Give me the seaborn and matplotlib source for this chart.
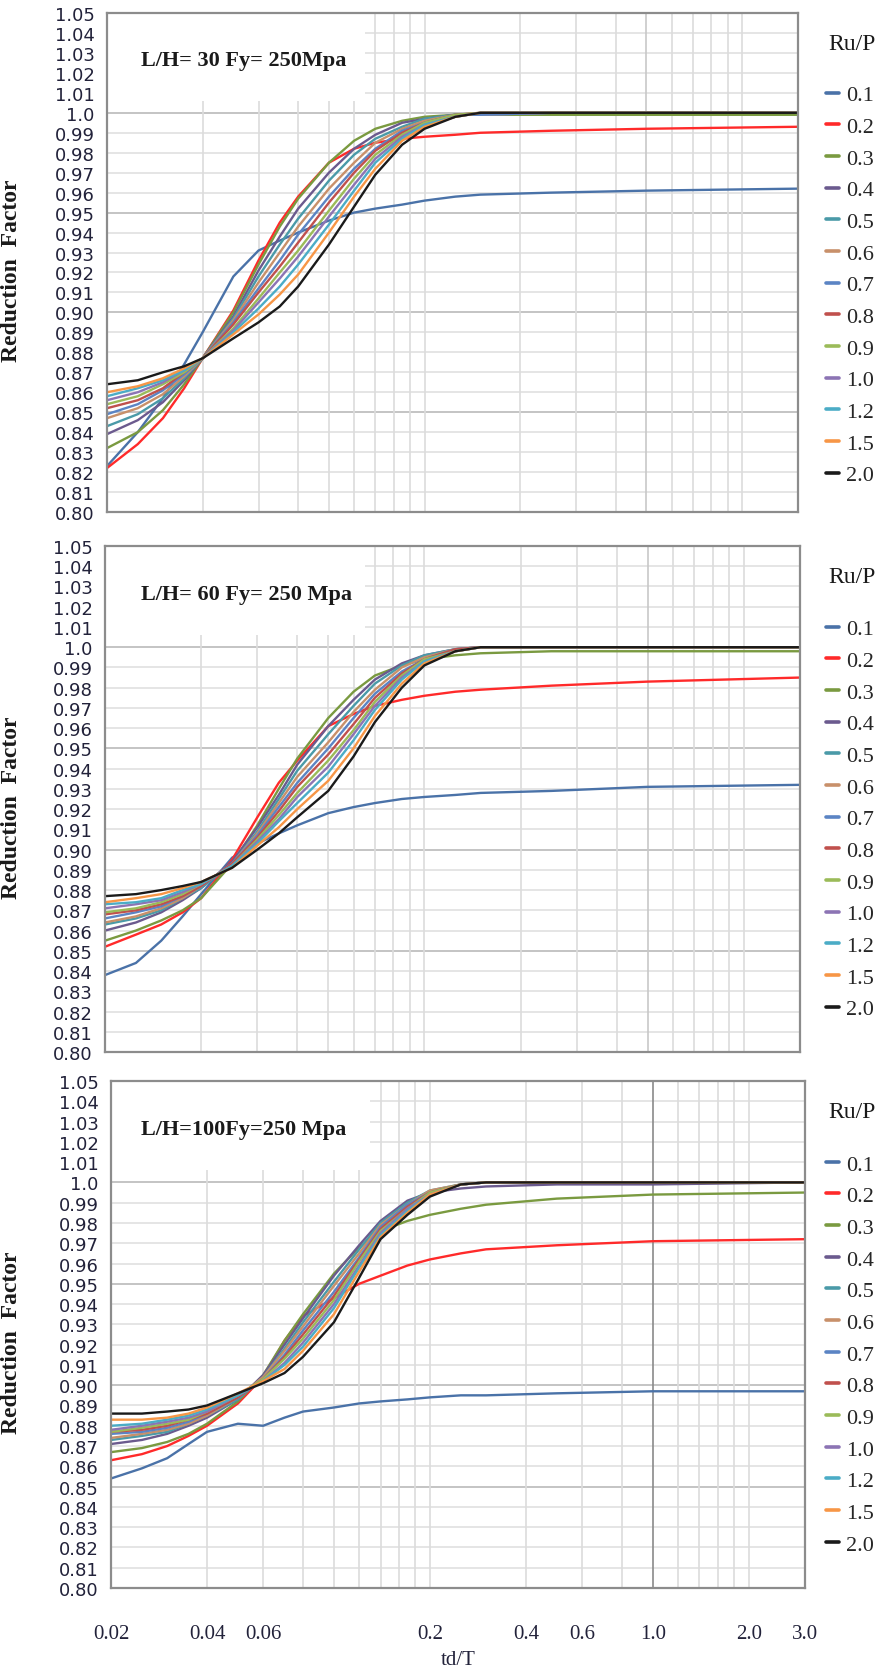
import matplotlib
matplotlib.use("Agg")
import matplotlib.pyplot as plt
import pandas as pd
import seaborn as sns
from matplotlib.lines import Line2D
from matplotlib.patches import Rectangle
from matplotlib.ticker import NullLocator, FixedLocator, FixedFormatter

# ---------------- data ----------------
td_T = [0.02, 0.025, 0.03, 0.035, 0.04, 0.05, 0.06, 0.07, 0.08, 0.1, 0.12,
        0.14, 0.17, 0.2, 0.25, 0.3, 0.5, 1.0, 3.0]

ru_labels = ["0.1", "0.2", "0.3", "0.4", "0.5", "0.6", "0.7", "0.8", "0.9",
             "1.0", "1.2", "1.5", "2.0"]
ru_colors = ["#4a72a8", "#ff2a2a", "#7a9a40", "#6b5a8e", "#4a9aa8", "#c8906a",
             "#5b84c4", "#c0504d", "#9bbb59", "#8c74b4", "#4bacc6", "#f79646",
             "#1a1a1a"]

# L/H = 30
lh30_ru01 = [0.823, 0.840, 0.857, 0.874, 0.890, 0.918, 0.931, 0.936, 0.940, 0.946, 0.950, 0.952, 0.954, 0.956, 0.958, 0.959, 0.960, 0.961, 0.962]
lh30_ru02 = [0.822, 0.834, 0.847, 0.862, 0.877, 0.901, 0.926, 0.945, 0.958, 0.975, 0.982, 0.985, 0.987, 0.988, 0.989, 0.990, 0.991, 0.992, 0.993]
lh30_ru03 = [0.832, 0.840, 0.851, 0.864, 0.877, 0.900, 0.924, 0.943, 0.957, 0.975, 0.986, 0.992, 0.996, 0.998, 0.999, 0.999, 0.999, 0.999, 0.999]
lh30_ru04 = [0.839, 0.846, 0.855, 0.866, 0.877, 0.898, 0.921, 0.938, 0.952, 0.970, 0.982, 0.989, 0.995, 0.997, 0.999, 0.999, 1.000, 1.000, 1.000]
lh30_ru05 = [0.843, 0.849, 0.857, 0.867, 0.877, 0.897, 0.918, 0.934, 0.947, 0.966, 0.979, 0.987, 0.993, 0.997, 0.999, 0.999, 1.000, 1.000, 1.000]
lh30_ru06 = [0.847, 0.852, 0.859, 0.868, 0.877, 0.896, 0.915, 0.930, 0.943, 0.962, 0.975, 0.985, 0.992, 0.996, 0.999, 0.999, 1.000, 1.000, 1.000]
lh30_ru07 = [0.849, 0.854, 0.861, 0.869, 0.877, 0.895, 0.912, 0.926, 0.939, 0.958, 0.972, 0.982, 0.991, 0.995, 0.999, 0.999, 1.000, 1.000, 1.000]
lh30_ru08 = [0.852, 0.856, 0.862, 0.870, 0.877, 0.894, 0.910, 0.923, 0.935, 0.955, 0.970, 0.981, 0.990, 0.995, 0.999, 1.000, 1.000, 1.000, 1.000]
lh30_ru09 = [0.854, 0.858, 0.864, 0.870, 0.877, 0.892, 0.907, 0.920, 0.931, 0.951, 0.967, 0.979, 0.989, 0.995, 0.999, 1.000, 1.000, 1.000, 1.000]
lh30_ru10 = [0.856, 0.860, 0.865, 0.871, 0.877, 0.891, 0.905, 0.917, 0.928, 0.948, 0.964, 0.977, 0.988, 0.994, 0.998, 1.000, 1.000, 1.000, 1.000]
lh30_ru12 = [0.858, 0.862, 0.866, 0.871, 0.877, 0.890, 0.902, 0.913, 0.924, 0.944, 0.961, 0.975, 0.987, 0.994, 0.998, 1.000, 1.000, 1.000, 1.000]
lh30_ru15 = [0.860, 0.863, 0.867, 0.872, 0.877, 0.889, 0.899, 0.909, 0.919, 0.940, 0.958, 0.972, 0.986, 0.993, 0.998, 1.000, 1.000, 1.000, 1.000]
lh30_ru20 = [0.864, 0.866, 0.870, 0.873, 0.877, 0.887, 0.895, 0.903, 0.913, 0.934, 0.953, 0.969, 0.984, 0.992, 0.998, 1.000, 1.000, 1.000, 1.000]

# L/H = 60
lh60_ru01 = [0.838, 0.844, 0.855, 0.867, 0.878, 0.896, 0.903, 0.908, 0.912, 0.918, 0.921, 0.923, 0.925, 0.926, 0.927, 0.928, 0.929, 0.931, 0.932]
lh60_ru02 = [0.852, 0.858, 0.863, 0.869, 0.876, 0.895, 0.916, 0.933, 0.944, 0.961, 0.967, 0.971, 0.974, 0.976, 0.978, 0.979, 0.981, 0.983, 0.985]
lh60_ru03 = [0.855, 0.860, 0.865, 0.870, 0.876, 0.893, 0.912, 0.930, 0.945, 0.965, 0.978, 0.986, 0.991, 0.994, 0.996, 0.997, 0.998, 0.998, 0.998]
lh60_ru04 = [0.860, 0.864, 0.869, 0.875, 0.881, 0.894, 0.911, 0.927, 0.942, 0.961, 0.974, 0.984, 0.992, 0.996, 0.999, 1.000, 1.000, 1.000, 1.000]
lh60_ru05 = [0.863, 0.866, 0.870, 0.876, 0.881, 0.893, 0.909, 0.925, 0.939, 0.957, 0.971, 0.982, 0.991, 0.996, 0.999, 1.000, 1.000, 1.000, 1.000]
lh60_ru06 = [0.864, 0.867, 0.871, 0.876, 0.882, 0.893, 0.908, 0.923, 0.936, 0.953, 0.968, 0.979, 0.990, 0.995, 0.999, 1.000, 1.000, 1.000, 1.000]
lh60_ru07 = [0.866, 0.869, 0.872, 0.877, 0.882, 0.893, 0.907, 0.921, 0.933, 0.950, 0.965, 0.977, 0.988, 0.994, 0.999, 1.000, 1.000, 1.000, 1.000]
lh60_ru08 = [0.868, 0.870, 0.873, 0.877, 0.882, 0.893, 0.906, 0.919, 0.931, 0.947, 0.962, 0.975, 0.987, 0.994, 0.999, 1.000, 1.000, 1.000, 1.000]
lh60_ru09 = [0.869, 0.871, 0.874, 0.878, 0.883, 0.892, 0.905, 0.917, 0.928, 0.944, 0.959, 0.973, 0.986, 0.994, 0.998, 1.000, 1.000, 1.000, 1.000]
lh60_ru10 = [0.871, 0.873, 0.875, 0.879, 0.883, 0.892, 0.904, 0.915, 0.926, 0.941, 0.957, 0.971, 0.985, 0.993, 0.998, 1.000, 1.000, 1.000, 1.000]
lh60_ru12 = [0.873, 0.874, 0.876, 0.880, 0.883, 0.892, 0.903, 0.914, 0.923, 0.938, 0.954, 0.969, 0.984, 0.993, 0.998, 1.000, 1.000, 1.000, 1.000]
lh60_ru15 = [0.874, 0.876, 0.878, 0.881, 0.884, 0.891, 0.902, 0.911, 0.920, 0.934, 0.950, 0.966, 0.982, 0.992, 0.998, 1.000, 1.000, 1.000, 1.000]
lh60_ru20 = [0.877, 0.878, 0.880, 0.882, 0.884, 0.891, 0.900, 0.908, 0.916, 0.929, 0.946, 0.963, 0.980, 0.991, 0.998, 1.000, 1.000, 1.000, 1.000]

# L/H = 100
lh100_ru01 = [0.854, 0.859, 0.864, 0.871, 0.877, 0.881, 0.880, 0.884, 0.887, 0.889, 0.891, 0.892, 0.893, 0.894, 0.895, 0.895, 0.896, 0.897, 0.897]
lh100_ru02 = [0.863, 0.866, 0.870, 0.875, 0.880, 0.891, 0.904, 0.922, 0.934, 0.943, 0.950, 0.954, 0.959, 0.962, 0.965, 0.967, 0.969, 0.971, 0.972]
lh100_ru03 = [0.867, 0.869, 0.872, 0.876, 0.881, 0.892, 0.905, 0.922, 0.935, 0.955, 0.968, 0.976, 0.981, 0.984, 0.987, 0.989, 0.992, 0.994, 0.995]
lh100_ru04 = [0.871, 0.873, 0.876, 0.880, 0.884, 0.893, 0.905, 0.920, 0.933, 0.954, 0.969, 0.981, 0.991, 0.995, 0.997, 0.998, 0.999, 0.999, 1.000]
lh100_ru05 = [0.873, 0.875, 0.877, 0.881, 0.885, 0.893, 0.904, 0.918, 0.931, 0.951, 0.967, 0.980, 0.990, 0.996, 0.999, 1.000, 1.000, 1.000, 1.000]
lh100_ru06 = [0.874, 0.876, 0.878, 0.881, 0.885, 0.894, 0.904, 0.917, 0.929, 0.949, 0.965, 0.979, 0.989, 0.996, 0.999, 1.000, 1.000, 1.000, 1.000]
lh100_ru07 = [0.876, 0.877, 0.879, 0.882, 0.886, 0.894, 0.903, 0.915, 0.927, 0.946, 0.963, 0.978, 0.989, 0.995, 0.999, 1.000, 1.000, 1.000, 1.000]
lh100_ru08 = [0.877, 0.878, 0.880, 0.883, 0.886, 0.894, 0.903, 0.914, 0.925, 0.944, 0.962, 0.977, 0.988, 0.995, 0.999, 1.000, 1.000, 1.000, 1.000]
lh100_ru09 = [0.877, 0.879, 0.881, 0.883, 0.887, 0.895, 0.903, 0.913, 0.923, 0.942, 0.961, 0.976, 0.987, 0.995, 0.999, 1.000, 1.000, 1.000, 1.000]
lh100_ru10 = [0.878, 0.880, 0.882, 0.884, 0.887, 0.895, 0.902, 0.911, 0.921, 0.940, 0.959, 0.975, 0.987, 0.994, 0.999, 1.000, 1.000, 1.000, 1.000]
lh100_ru12 = [0.880, 0.881, 0.883, 0.885, 0.888, 0.895, 0.902, 0.910, 0.919, 0.938, 0.958, 0.974, 0.986, 0.994, 0.999, 1.000, 1.000, 1.000, 1.000]
lh100_ru15 = [0.883, 0.883, 0.884, 0.886, 0.889, 0.896, 0.902, 0.908, 0.917, 0.935, 0.956, 0.973, 0.985, 0.994, 0.999, 1.000, 1.000, 1.000, 1.000]
lh100_ru20 = [0.886, 0.886, 0.887, 0.888, 0.890, 0.896, 0.901, 0.906, 0.914, 0.931, 0.953, 0.972, 0.984, 0.993, 0.999, 1.000, 1.000, 1.000, 1.000]

panel_titles = ["L/H= 30 Fy= 250Mpa", "L/H= 60 Fy= 250 Mpa", "L/H=100Fy=250 Mpa"]
panel_series = [
    [lh30_ru01, lh30_ru02, lh30_ru03, lh30_ru04, lh30_ru05, lh30_ru06, lh30_ru07,
     lh30_ru08, lh30_ru09, lh30_ru10, lh30_ru12, lh30_ru15, lh30_ru20],
    [lh60_ru01, lh60_ru02, lh60_ru03, lh60_ru04, lh60_ru05, lh60_ru06, lh60_ru07,
     lh60_ru08, lh60_ru09, lh60_ru10, lh60_ru12, lh60_ru15, lh60_ru20],
    [lh100_ru01, lh100_ru02, lh100_ru03, lh100_ru04, lh100_ru05, lh100_ru06, lh100_ru07,
     lh100_ru08, lh100_ru09, lh100_ru10, lh100_ru12, lh100_ru15, lh100_ru20],
]

y_ticks = [0.80, 0.81, 0.82, 0.83, 0.84, 0.85, 0.86, 0.87, 0.88, 0.89, 0.90, 0.91, 0.92,
           0.93, 0.94, 0.95, 0.96, 0.97, 0.98, 0.99, 1.00, 1.01, 1.02, 1.03, 1.04, 1.05]
y_tick_labels = ["0.80", "0.81", "0.82", "0.83", "0.84", "0.85", "0.86", "0.87", "0.88",
                 "0.89", "0.90", "0.91", "0.92", "0.93", "0.94", "0.95", "0.96", "0.97",
                 "0.98", "0.99", "1.0", "1.01", "1.02", "1.03", "1.04", "1.05"]
y_major_grid = [0.85, 0.90, 0.95, 1.00]
x_grid = [0.04, 0.06, 0.08, 0.1, 0.12, 0.14, 0.16, 0.18, 0.2, 0.4, 0.6, 0.8, 1.0,
          1.2, 1.4, 1.6, 1.8, 2.0]
x_tick_vals = [0.02, 0.04, 0.06, 0.2, 0.4, 0.6, 1.0, 2.0, 3.0]
x_tick_labels = ["0.02", "0.04", "0.06", "0.2", "0.4", "0.6", "1.0", "2.0", "3.0"]

# ---------------- style ----------------
sns.set_theme(style="white")
plt.rcParams["font.family"] = ["DejaVu Sans"]
SERIF = ["Liberation Serif", "DejaVu Serif"]

W, H = 886, 1674
fig = plt.figure(figsize=(W / 100, H / 100), dpi=100)
fig.patch.set_facecolor("white")

# pixel boxes: (left, top, right, bottom)
boxes = [(107, 14, 798, 513), (105, 547, 800, 1053), (111, 1082, 805, 1589)]

palette = dict(zip(ru_labels, ru_colors))

for k, (title, series) in enumerate(zip(panel_titles, panel_series)):
    l, t, r, b = boxes[k]
    ax = fig.add_axes([l / W, 1 - b / H, (r - l) / W, (b - t) / H])
    ax.set_facecolor("white")
    aw = r - l

    rows = []
    for lab, vals in zip(ru_labels, series):
        for xv, yv in zip(td_T, vals):
            rows.append((xv, yv, lab))
    df = pd.DataFrame(rows, columns=["td/T", "RF", "Ru/P"])

    ax.set_xscale("log")
    # grid
    for yv in y_ticks:
        major = any(abs(yv - m) < 1e-9 for m in y_major_grid)
        ax.axhline(yv, color="#c4c4c4" if major else "#dedede",
                   lw=1.4 if major else 1.1, zorder=0)
    for xv in x_grid:
        if abs(xv - 1.0) < 1e-9:
            c = "#8a8a8a" if k == 2 else "#c8c8c8"
        else:
            c = "#dcdcdc"
        ax.axvline(xv, color=c, lw=1.2, zorder=0)
    # white label box hiding the grid in the upper-left corner
    ax.add_patch(Rectangle((0.02, 1.006), 0.13 - 0.02, 0.05, facecolor="white",
                           edgecolor="none", zorder=0.5))

    sns.lineplot(data=df, x="td/T", y="RF", hue="Ru/P", hue_order=ru_labels,
                 palette=palette, estimator=None, sort=False, legend=False,
                 linewidth=1.7, ax=ax, zorder=2)

    ax.set_xlim(0.02, 3.0)
    ax.set_ylim(0.80, 1.05)

    ax.yaxis.set_major_locator(FixedLocator(y_ticks))
    ax.yaxis.set_major_formatter(FixedFormatter(y_tick_labels))
    ax.yaxis.set_minor_locator(NullLocator())
    ax.tick_params(axis="y", length=0, pad=9, labelsize=13, labelcolor="#22223a")

    ax.xaxis.set_minor_locator(NullLocator())
    if k == 2:
        ax.xaxis.set_major_locator(FixedLocator(x_tick_vals))
        ax.xaxis.set_major_formatter(FixedFormatter(x_tick_labels))
        ax.tick_params(axis="x", length=0, pad=26, labelsize=15, labelcolor="#22223a")
        for lbl in ax.get_xticklabels():
            lbl.set_fontfamily(SERIF)
        ax.set_xlabel("td/T", fontfamily=SERIF, fontsize=15, color="#22223a", labelpad=5)
    else:
        ax.xaxis.set_major_locator(NullLocator())
        ax.set_xlabel("")

    ax.set_ylabel("Reduction  Factor", fontfamily=SERIF, fontweight="bold",
                  fontsize=17, color="#1a1a1a")
    ax.yaxis.set_label_coords((22 - l) / aw, 0.485)

    for sp in ax.spines.values():
        sp.set_visible(True)
        sp.set_color("#8c8c8c")
        sp.set_linewidth(1.6)

    ax.text((141 - l) / aw, 0.906, title, transform=ax.transAxes, fontfamily=SERIF,
            fontweight="bold", fontsize=16, ha="left", va="center",
            color="#1a1a1a", zorder=5)

    handles = [Line2D([0], [0], color=c, lw=2.6) for c in ru_colors]
    ax.legend(handles, ru_labels, loc="upper left",
              bbox_to_anchor=((826 - l) / aw, 0.856),
              frameon=False, handlelength=0.6, handletextpad=0.32, labelspacing=0.5,
              borderpad=0, borderaxespad=0, prop={"family": SERIF, "size": 16})
    ax.text((828 - l) / aw, 0.939, "Ru/P", transform=ax.transAxes, fontfamily=SERIF,
            fontsize=17, ha="left", va="center", color="#1a1a1a")

fig.savefig("out.png", dpi=100, facecolor="white")
